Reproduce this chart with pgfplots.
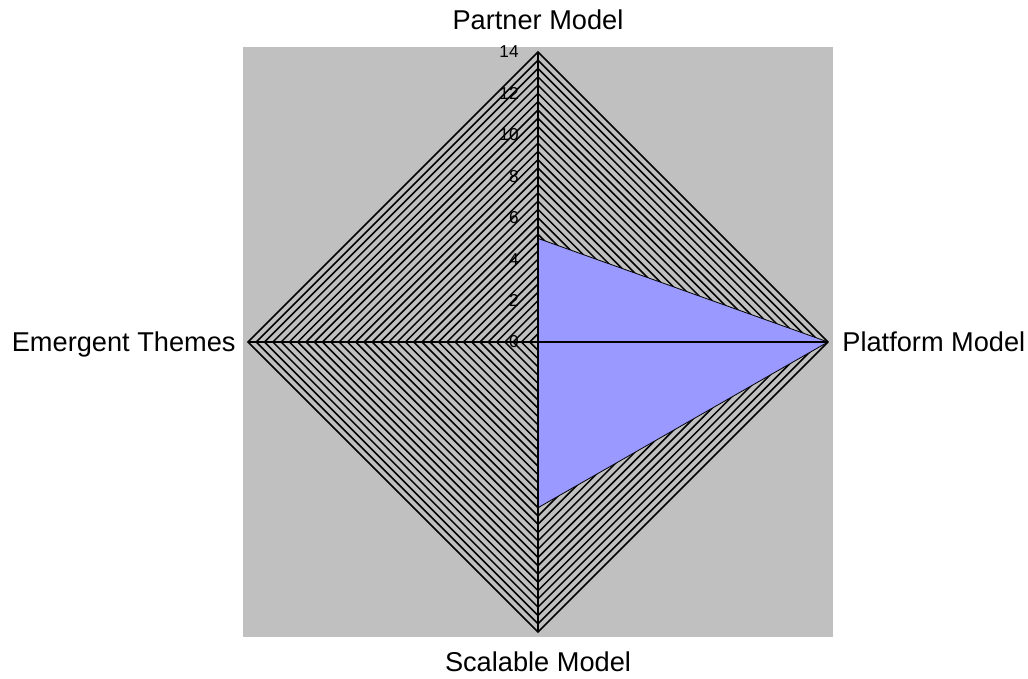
\documentclass[border=0pt]{standalone}
\usepackage{pgfplots}
\pgfplotsset{compat=1.18}
\usepackage{fontspec}
\setmainfont{Liberation Sans}
\definecolor{bggray}{RGB}{192,192,192}
\definecolor{serblue}{RGB}{153,153,255}
\begin{document}
\begin{tikzpicture}
\useasboundingbox (-269pt,-168.5pt) rectangle (245pt,171pt);
\begin{axis}[
  at={(0,0)}, anchor=center,
  scale only axis, width=295.2pt, height=295.2pt,
  xmin=-14.25, xmax=14.25, ymin=-14.25, ymax=14.25,
  axis line style={draw=none}, ticks=none,
  axis background/.style={fill=bggray},
  clip=false,
]
% grid rings (minor unit 0.4, max 14)
\pgfplotsinvokeforeach{0.4,0.8,...,14.01}{
  \addplot[black, line width=0.75pt, forget plot] coordinates {(#1,0) (0,#1) (-#1,0) (0,-#1) (#1,0)};
}
% data: Partner=5, Platform=14, Scalable=8, Emergent=0
\addplot[fill=serblue, draw=black, line width=0.4pt] coordinates {(0,5) (14,0) (0,-8) (0,0) (0,5)};
% spokes
\addplot[black, line width=1pt] coordinates {(0,14) (0,-14)};
\addplot[black, line width=1pt] coordinates {(-14,0) (14,0)};
% tick labels
\pgfplotsinvokeforeach{0,2,...,14}{
  \node[anchor=east, font=\fontsize{8.6}{10}\selectfont, inner sep=0pt] at (axis cs:0,#1) [xshift=-9.5pt] {#1};
}
% category labels
\node[anchor=base, font=\fontsize{13.6}{16}\selectfont, inner sep=0pt] at (axis cs:0,14) [yshift=11.2pt] {Partner Model};
\node[anchor=base west, font=\fontsize{13.6}{16}\selectfont, inner sep=0pt] at (axis cs:14,0) [xshift=7pt, yshift=-4.9pt] {Platform Model};
\node[anchor=base, font=\fontsize{13.6}{16}\selectfont, inner sep=0pt] at (axis cs:0,-14) [yshift=-19.9pt] {Scalable Model};
\node[anchor=base east, font=\fontsize{13.6}{16}\selectfont, inner sep=0pt] at (axis cs:-14,0) [xshift=-6pt, yshift=-4.9pt] {Emergent Themes};
\end{axis}
\end{tikzpicture}
\end{document}
